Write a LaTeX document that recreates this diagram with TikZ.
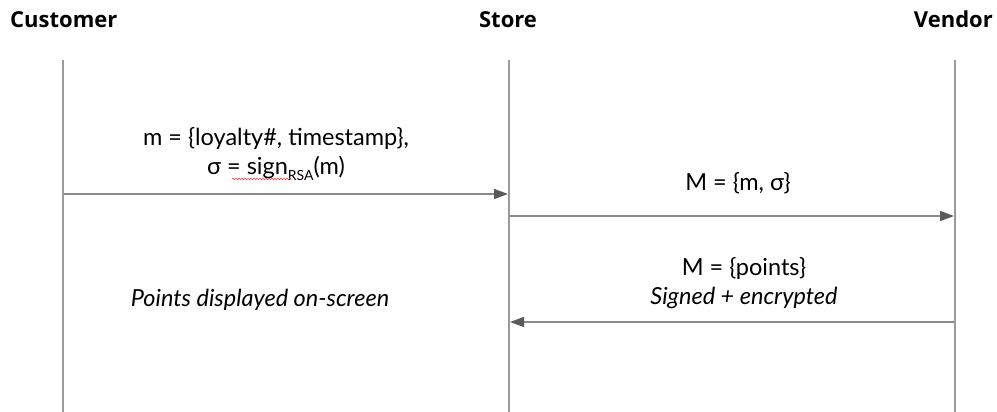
\documentclass[tikz,border=0pt]{standalone}
\usepackage{fontspec}
\setmainfont{Lato}
\newfontfamily\headfont{Open Sans}
\usetikzlibrary{arrows.meta,decorations.pathmorphing}
\definecolor{lifegray}{HTML}{9A9A9A}
\definecolor{arrgray}{HTML}{8A8A8A}
\definecolor{tipgray}{HTML}{5A5A5A}
\begin{document}
\begin{tikzpicture}[x=1pt,y=-1pt,
  head/.style={font=\headfont\bfseries\fontsize{22}{26}\selectfont, inner sep=0pt, anchor=base},
  lbl/.style={font=\fontsize{23.5}{29}\selectfont, align=center, inner sep=0pt},
  lifeline/.style={draw=lifegray, line width=1.8pt},
  msg/.style={draw=arrgray, line width=1.6pt, -{Triangle[length=14pt,width=10pt,color=tipgray]}}]
\useasboundingbox (0,0) rectangle (997,412);
% headers
\node[head, anchor=base west] (hc) at (10,28) {Customer};
\node[head] (hs) at (508,28) {Store};
\node[head, anchor=base east] (hv) at (993,28) {Vendor};
% lifelines
\coordinate (ct) at (63,60); \coordinate (cb) at (63,412);
\coordinate (st) at (509,60); \coordinate (sb) at (509,412);
\coordinate (vt) at (955,60); \coordinate (vb) at (955,412);
\draw[lifeline] (ct) -- (cb);
\draw[lifeline] (st) -- (sb);
\draw[lifeline] (vt) -- (vb);
% message endpoints
\coordinate (m1a) at (64,194); \coordinate (m1b) at (508,194);
\coordinate (m2a) at (510,216); \coordinate (m2b) at (954,216);
\coordinate (m3a) at (954,322); \coordinate (m3b) at (510,322);
\draw[msg] (m1a) -- (m1b);
\draw[msg] (m2a) -- (m2b);
\draw[msg] (m3a) -- (m3b);
% labels
\node[lbl] (l1) at (276,154) {m = \{loyalty\#, timestamp\},\\
  σ = sign\raisebox{-6pt}{\fontsize{14}{14}\selectfont RSA}(m)};
\coordinate (w1) at (232,179); \coordinate (w2) at (292,179);
\draw[red!80, line width=0.5pt, decorate, decoration={snake,amplitude=0.8pt,segment length=3pt}]
  (w1) -- (w2);
\node[lbl] (l2) at (738,183) {M = \{m, σ\}};
\node[lbl] (l3) at (744,283) {M = \{points\}\\ \itshape Signed + encrypted};
\node[lbl, font=\itshape\fontsize{23.5}{29}\selectfont] (l4) at (260,300) {Points displayed on-screen};
\end{tikzpicture}
\end{document}
